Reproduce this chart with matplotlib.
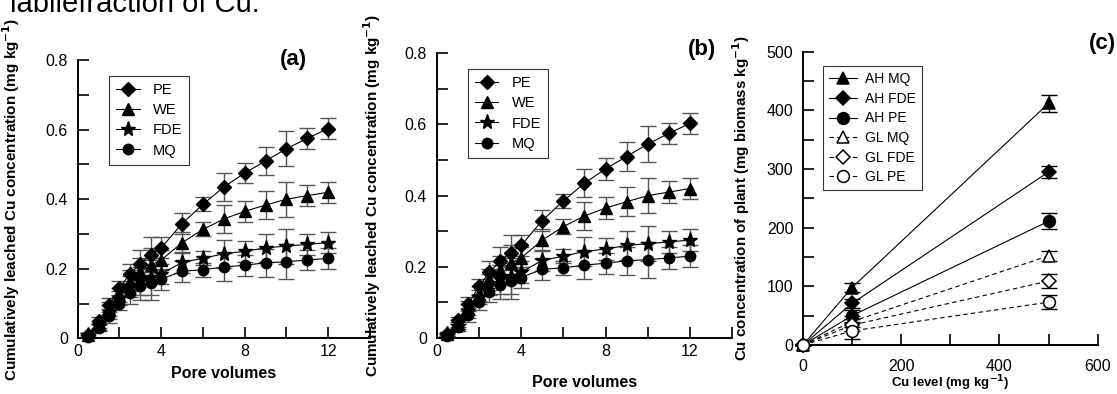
import matplotlib
matplotlib.use("Agg")
import matplotlib.pyplot as plt
from matplotlib.ticker import MultipleLocator, FuncFormatter

plt.rcParams['font.family'] = ['Liberation Sans', 'DejaVu Sans']

# pore volumes (panels a and b)
pore = [0.5, 1, 1.5, 2, 2.5, 3, 3.5, 4, 5, 6, 7, 8, 9, 10, 11, 12]

pe = [0.010, 0.050, 0.095, 0.145, 0.185, 0.215, 0.240, 0.260,
      0.330, 0.385, 0.435, 0.475, 0.510, 0.545, 0.575, 0.603]
pe_err = [0.005, 0.010, 0.020, 0.020, 0.030, 0.040, 0.050, 0.030,
          0.030, 0.020, 0.040, 0.030, 0.040, 0.050, 0.030, 0.030]
we = [0.010, 0.040, 0.085, 0.125, 0.165, 0.190, 0.210, 0.225,
      0.275, 0.313, 0.343, 0.365, 0.383, 0.400, 0.410, 0.420]
we_err = [0.005, 0.010, 0.020, 0.020, 0.030, 0.040, 0.050, 0.030,
          0.030, 0.020, 0.040, 0.030, 0.040, 0.050, 0.030, 0.030]
fde = [0.010, 0.035, 0.075, 0.115, 0.150, 0.165, 0.175, 0.185,
       0.218, 0.230, 0.243, 0.250, 0.260, 0.265, 0.270, 0.275]
fde_err = [0.005, 0.010, 0.020, 0.020, 0.030, 0.040, 0.050, 0.030,
           0.030, 0.020, 0.040, 0.030, 0.040, 0.050, 0.030, 0.030]
mq = [0.005, 0.030, 0.065, 0.100, 0.130, 0.150, 0.160, 0.170,
      0.193, 0.197, 0.205, 0.210, 0.217, 0.220, 0.225, 0.230]
mq_err = [0.005, 0.010, 0.020, 0.020, 0.030, 0.040, 0.050, 0.030,
          0.030, 0.020, 0.040, 0.030, 0.040, 0.050, 0.030, 0.030]

# Cu level (panel c)
cu_level = [0, 100, 500]
ah_mq = [0, 98, 412]
ah_mq_err = [0, 8, 15]
ah_fde = [0, 71, 295]
ah_fde_err = [0, 8, 11]
ah_pe = [0, 50, 211]
ah_pe_err = [0, 10, 14]
gl_mq = [0, 40, 152]
gl_mq_err = [0, 10, 9]
gl_fde = [0, 34, 109]
gl_fde_err = [0, 10, 12]
gl_pe = [0, 24, 73]
gl_pe_err = [0, 14, 12]

W, H = 1117, 394
fig = plt.figure(figsize=(W / 100, H / 100), dpi=100)


def px_axes(left, right, top, bottom):
    return fig.add_axes([left / W, 1 - bottom / H, (right - left) / W, (bottom - top) / H])


def style(ax):
    for s in ['top', 'right']:
        ax.spines[s].set_visible(False)
    for s in ['left', 'bottom']:
        ax.spines[s].set_linewidth(1.4)
    ax.tick_params(which='both', direction='in', length=8, width=1.2,
                   labelsize=11.5, colors='black')
    ax.tick_params(axis='y', pad=7)
    ax.tick_params(axis='x', pad=4)


fmt = FuncFormatter(lambda v, p: '%g' % round(v, 3))


def leach_panel(ax, legend_pos, xpad):
    series = [(pe, pe_err, 'D', 'PE', 7.5), (we, we_err, '^', 'WE', 8),
              (fde, fde_err, '*', 'FDE', 11), (mq, mq_err, 'o', 'MQ', 7.5)]
    for y, e, m, lab, ms in series[::-1]:
        ax.errorbar(pore, y, yerr=e, fmt='none', ecolor='#555555',
                    elinewidth=1.0, capsize=5.5, capthick=1.0, clip_on=False, zorder=2)
    handles = []
    for y, e, m, lab, ms in series:
        h, = ax.plot(pore, y, marker=m, color='black', markersize=ms, lw=0.8,
                     label=lab, clip_on=False, zorder=3)
        handles.append(h)
    ax.set_xlim(0, 14)
    ax.set_ylim(0, 0.8)
    ax.xaxis.set_major_locator(MultipleLocator(4))
    ax.xaxis.set_minor_locator(MultipleLocator(2))
    ax.yaxis.set_major_locator(MultipleLocator(0.2))
    ax.yaxis.set_minor_locator(MultipleLocator(0.1))
    ax.yaxis.set_major_formatter(fmt)
    style(ax)
    ax.set_xlabel('Pore volumes', fontsize=11.5, fontweight='bold', labelpad=xpad)
    ax.set_ylabel('Cumulatively leached Cu concentration (mg kg$^{\\mathbf{-1}}$)',
                  fontsize=11, fontweight='bold')
    leg = ax.legend(handles=handles, loc='upper left', bbox_to_anchor=legend_pos,
                    borderaxespad=0, fontsize=10.5, fancybox=False, edgecolor='black',
                    handlelength=1.6, labelspacing=0.42, handletextpad=0.9,
                    borderpad=0.5)
    leg.get_frame().set_linewidth(0.8)


# panel (a)
ax1 = px_axes(77.7, 370, 60, 338.3)
leach_panel(ax1, (0.107, 0.943), 5.5)
ax1.yaxis.set_label_coords(-0.19, 0.5)

# panel (b)
ax2 = px_axes(436.7, 732.1, 53.3, 338)
leach_panel(ax2, (0.105, 0.945), 11.5)
ax2.yaxis.set_label_coords(-0.182, 0.5)

# panel (c)
ax3 = px_axes(803, 1097.7, 51.7, 345)
plant = [(ah_mq, ah_mq_err, '^', 'AH MQ', 'black', '-', 8),
         (ah_fde, ah_fde_err, 'D', 'AH FDE', 'black', '-', 7.5),
         (ah_pe, ah_pe_err, 'o', 'AH PE', 'black', '-', 8.5),
         (gl_mq, gl_mq_err, '^', 'GL MQ', 'white', '--', 8),
         (gl_fde, gl_fde_err, 'D', 'GL FDE', 'white', '--', 7.5),
         (gl_pe, gl_pe_err, 'o', 'GL PE', 'white', '--', 8.5)]
for y, e, m, lab, fc, ls, ms in plant:
    ax3.errorbar(cu_level, y, yerr=e, fmt='none', ecolor='black', elinewidth=1.0,
                 capsize=5.5, capthick=1.0, clip_on=False, zorder=2)
for y, e, m, lab, fc, ls, ms in plant:
    ax3.plot(cu_level, y, marker=m, color='black', markerfacecolor=fc,
             markeredgewidth=1.1, markersize=ms, lw=0.8, ls=ls,
             dashes=(4, 3) if ls == '--' else (None, None),
             label=lab, clip_on=False, zorder=3)
ax3.set_xlim(0, 600)
ax3.set_ylim(0, 500)
ax3.xaxis.set_major_locator(MultipleLocator(200))
ax3.xaxis.set_minor_locator(MultipleLocator(100))
ax3.yaxis.set_major_locator(MultipleLocator(100))
ax3.yaxis.set_minor_locator(MultipleLocator(50))
style(ax3)
ax3.tick_params(axis='x', pad=10)
ax3.set_xlabel('Cu level (mg kg$^{\\mathbf{-1}}$)', fontsize=9.5, fontweight='bold', labelpad=0)
ax3.set_ylabel('Cu concentration of plant (mg biomass kg$^{\\mathbf{-1}}$)',
               fontsize=10.9, fontweight='bold')
ax3.yaxis.set_label_coords(-0.173, 0.5)
leg = ax3.legend(loc='upper left', bbox_to_anchor=(0.067, 0.951), borderaxespad=0,
                 fontsize=10, fancybox=False, edgecolor='black', handlelength=2.0,
                 labelspacing=0.4, handletextpad=0.6, borderpad=0.45)
leg.get_frame().set_linewidth(0.8)

# panel tags
fig.text(293 / W, 1 - 59 / H, '(a)', fontsize=16, fontweight='bold', ha='center', va='center')
fig.text(702 / W, 1 - 50 / H, '(b)', fontsize=16, fontweight='bold', ha='center', va='center')
fig.text(1102 / W, 1 - 43 / H, '(c)', fontsize=16, fontweight='bold', ha='center', va='center')

# clipped caption line from the page above
fig.text(10 / W, 1 - 12.5 / H, 'labilefraction of Cu.', fontsize=21, ha='left', va='baseline')

fig.savefig('out.png', dpi=100)
